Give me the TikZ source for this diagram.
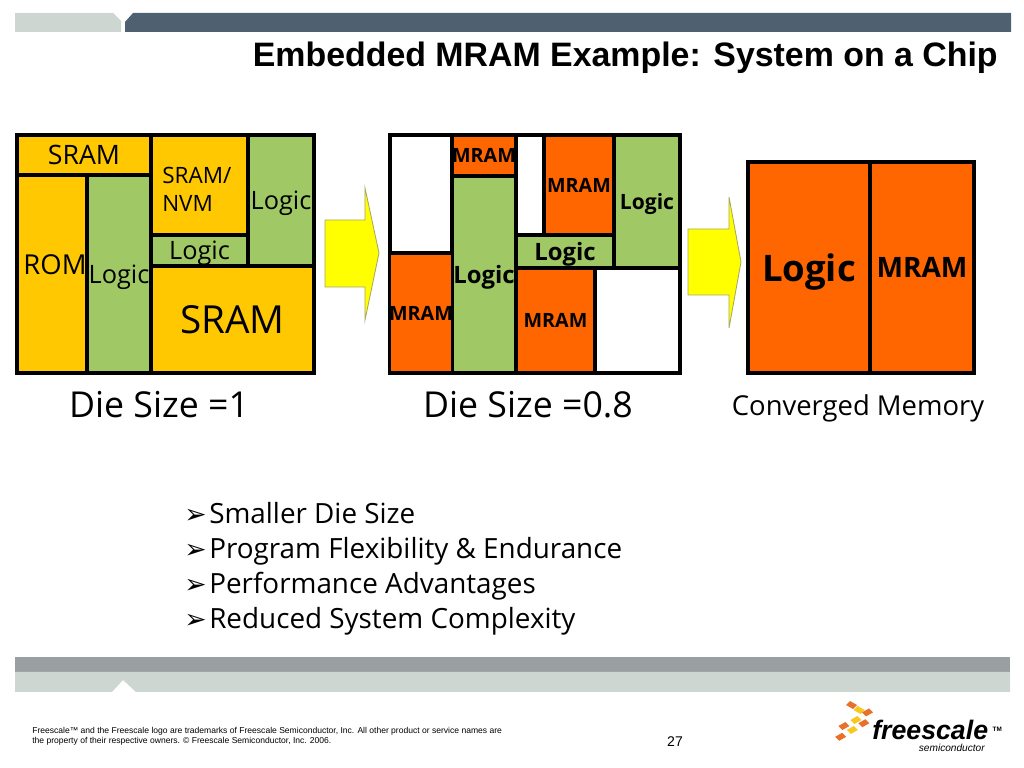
\documentclass[tikz,border=0pt]{standalone}
\usepackage{fontspec}
\setmainfont{Open Sans}
\newfontfamily\arialfont{Liberation Sans}
\newfontfamily\symbfont{DejaVu Sans}
\usepackage{xcolor}
\definecolor{sramcol}{HTML}{FFC800}
\definecolor{logiccol}{HTML}{A0C864}
\definecolor{mramcol}{HTML}{FF6600}
\definecolor{barlight}{HTML}{CDD6D1}
\definecolor{bardark}{HTML}{4F6070}
\definecolor{bargray}{HTML}{9A9FA2}
\definecolor{arrowfill}{HTML}{FFFF00}
\definecolor{arrowline}{HTML}{A8A860}
\definecolor{chiporange}{HTML}{E8702A}
\definecolor{chipyellow}{HTML}{F8C820}
\newcommand{\itemmark}{\makebox[0.625cm][l]{\symbfont\fontsize{19}{20}\selectfont ➢}}
\tikzset{
  block/.style={draw, line width=2.2pt, inner sep=0pt, text centered, text depth=0pt},
  sramblock/.style={block, fill=sramcol},
  logicblock/.style={block, fill=logiccol},
  mramblock/.style={block, fill=mramcol},
  emptyblock/.style={block, fill=white},
  dietext/.style={font=\fontsize{19}{21}\selectfont},
  logictext/.style={font=\fontsize{18}{20}\selectfont},
  boldtext/.style={font=\fontsize{14}{16}\selectfont\bfseries},
  boldwide/.style={font=\fontsize{17}{19}\selectfont\bfseries},
  captext/.style={font=\fontsize{25.4}{28}\selectfont},
  bullettext/.style={anchor=base west, inner sep=0pt, font=\fontsize{19.8}{22}\selectfont},
  foottext/.style={anchor=west, inner sep=0pt, font=\arialfont\fontsize{6.08}{7}\selectfont},
  bigarrow/.style={fill=arrowfill, draw=arrowline, line width=0.6pt},
}
\begin{document}
\begin{tikzpicture}
     \useasboundingbox (0,0) rectangle (25.6,19.2);

     % top and bottom bars
     \fill[barlight] (0.375,18.4) -- (0.375,18.875) -- (2.825,18.875) -- (3.025,18.675) -- (3.025,18.4) -- cycle;
     \fill[bardark] (3.125,18.4) -- (3.125,18.65) -- (3.325,18.875) -- (25.275,18.875) -- (25.275,18.4) -- cycle;
     \fill[bargray] (0.375,2.4) rectangle (25.25,2.775);
     \fill[barlight] (0.375,1.9) -- (0.375,2.4) -- (25.25,2.4) -- (25.25,1.9) -- (3.4,1.9) -- (3.075,2.2) -- (2.8,1.9) -- cycle;

     \node[anchor=east, inner sep=0pt, font=\arialfont\fontsize{24.1}{26}\selectfont\bfseries] (title) at (24.95, 17.75)
       {Embedded MRAM Example: System on a Chip};

     % die size 1
     \node[sramblock, dietext, minimum width=3.35cm, minimum height=1cm] (sramtop) at (2.1, 15.325) {SRAM};
     \node[sramblock, minimum width=1.75cm, minimum height=4.95cm] (rom) at (1.3, 12.35) {};
     \node[logicblock, logictext, minimum width=1.6cm, minimum height=4.95cm] (logicleft) at (2.975, 12.35) {Logic};
     \node[sramblock, minimum width=2.425cm, minimum height=2.5cm] (nvm) at (4.9875, 14.575) {};
     \node[logicblock, logictext, minimum width=2.425cm, minimum height=0.775cm] (logicmid) at (4.9875, 12.9375) {Logic};
     \node[logicblock, logictext, minimum width=1.65cm, minimum height=3.275cm] (logicright) at (7.025, 14.1875) {Logic};
     \node[sramblock, font=\fontsize{27.5}{30}\selectfont, minimum width=4.075cm, minimum height=2.675cm] (srambig) at (5.8125, 11.2125) {SRAM};
     \node[font=\fontsize{19.5}{21}\selectfont, inner sep=0pt] (romtext) at (1.375, 12.575) {ROM};
     \node[anchor=west, inner sep=0pt, align=left, font=\fontsize{16}{20}\selectfont] (nvmtext) at (4.05, 14.475) {SRAM/\\NVM};
     \node[captext] (sizeone) at (3.975, 9.075) {Die Size =1};

     \draw[bigarrow] (8.125,13.7) -- (9.125,13.7) -- (9.125,14.5) -- (9.475,12.875) -- (9.125,11.2) -- (9.125,12.025) -- (8.125,12.025) -- cycle;

     % die size 0.8
     \node[emptyblock, minimum width=1.55cm, minimum height=2.95cm] (emptya) at (10.525, 14.35) {};
     \node[mramblock, boldtext, minimum width=1.6cm, minimum height=1.025cm] (mramtop) at (12.1, 15.3125) {MRAM};
     \node[logicblock, boldwide, minimum width=1.6cm, minimum height=4.925cm] (logictall) at (12.1, 12.3375) {Logic};
     \node[mramblock, boldtext, minimum width=1.55cm, minimum height=3cm] (mramleft) at (10.525, 11.375) {MRAM};
     \node[emptyblock, minimum width=0.7cm, minimum height=2.5cm] (emptyb) at (13.25, 14.575) {};
     \node[mramblock, boldtext, minimum width=1.75cm, minimum height=2.5cm] (mramupper) at (14.475, 14.575) {MRAM};
     \node[logicblock, font=\fontsize{15}{17}\selectfont\bfseries, minimum width=1.65cm, minimum height=3.325cm] (logicside) at (16.175, 14.1625) {Logic};
     \node[logicblock, boldwide, minimum width=2.45cm, minimum height=0.825cm] (logicbar) at (14.125, 12.9125) {Logic};
     \node[mramblock, boldtext, minimum width=1.975cm, minimum height=2.625cm] (mramlower) at (13.8875, 11.1875) {MRAM};
     \node[emptyblock, minimum width=2.125cm, minimum height=2.625cm] (emptyc) at (15.9375, 11.1875) {};
     \node[captext] (sizetwo) at (13.2, 9.075) {Die Size =0.8};

     \draw[bigarrow] (17.2,13.475) -- (18.225,13.475) -- (18.225,14.275) -- (18.525,12.65) -- (18.225,11) -- (18.225,11.825) -- (17.2,11.825) -- cycle;

     % converged
     \node[mramblock, font=\fontsize{26}{28}\selectfont\bfseries, minimum width=3.05cm, minimum height=5.275cm] (logicconv) at (20.225, 12.5125) {Logic};
     \node[mramblock, font=\fontsize{20}{24}\selectfont\bfseries, minimum width=2.6cm, minimum height=5.275cm] (mramconv) at (23.05, 12.5125) {MRAM};
     \node[font=\fontsize{19.5}{22}\selectfont] (convtext) at (21.45, 9) {Converged Memory};

     % bullets
     \node[bullettext] (itemone) at (4.6, 6.11) {\itemmark Smaller Die Size};
     \node[bullettext] (itemtwo) at (4.6, 5.235) {\itemmark Program Flexibility \& Endurance};
     \node[bullettext] (itemthree) at (4.6, 4.36) {\itemmark Performance Advantages};
     \node[bullettext] (itemfour) at (4.6, 3.485) {\itemmark Reduced System Complexity};

     % footer
     \node[foottext] (footone) at (0.8, 0.925) {Freescale™ and the Freescale logo are trademarks of Freescale Semiconductor, Inc. All other product or service names are};
     \node[foottext] (foottwo) at (0.8, 0.675) {the property of their respective owners. © Freescale Semiconductor, Inc. 2006.};
     \node[inner sep=0pt, font=\arialfont\fontsize{10}{12}\selectfont] (pagenum) at (16.875, 0.65) {27};

     % logo
     \fill[chiporange] (21.15,1.575) -- ++(0.1,0.1) -- ++(0.175,-0.1) -- ++(-0.1,-0.1) -- cycle;
     \fill[chipyellow] (21.34,1.45) -- ++(0.1,0.1) -- ++(0.175,-0.1) -- ++(-0.1,-0.1) -- cycle;
     \fill[chiporange] (21.55,1.39) -- ++(0.175,0.1) -- ++(0.1,-0.1) -- ++(-0.175,-0.1) -- cycle;
     \fill[chipyellow] (21.26,1.2) -- ++(0.175,0.1) -- ++(0.1,-0.1) -- ++(-0.175,-0.1) -- cycle;
     \fill[chiporange] (21.46,1.12) -- ++(0.175,0.1) -- ++(0.1,-0.1) -- ++(-0.175,-0.1) -- cycle;
     \fill[chiporange] (20.96,1.05) -- ++(0.175,0.1) -- ++(0.1,-0.1) -- ++(-0.175,-0.1) -- cycle;
     \fill[chipyellow] (21.17,0.95) -- ++(0.175,0.1) -- ++(0.1,-0.1) -- ++(-0.175,-0.1) -- cycle;
     \fill[chiporange] (20.88,0.78) -- ++(0.175,0.1) -- ++(0.1,-0.1) -- ++(-0.175,-0.1) -- cycle;
     \node[anchor=base west, inner sep=0pt, font=\arialfont\fontsize{19}{21}\selectfont\bfseries\itshape] (logoname) at (21.8, 0.7) {freescale};
     \node[anchor=base east, inner sep=0pt, font=\arialfont\fontsize{7.2}{8}\selectfont\itshape] (logosub) at (24.625, 0.41) {semiconductor};
     \node[inner sep=0pt, font=\arialfont\fontsize{4.5}{6}\selectfont\bfseries] (logotm) at (24.93, 0.975) {TM};
   \end{tikzpicture}
\end{document}
